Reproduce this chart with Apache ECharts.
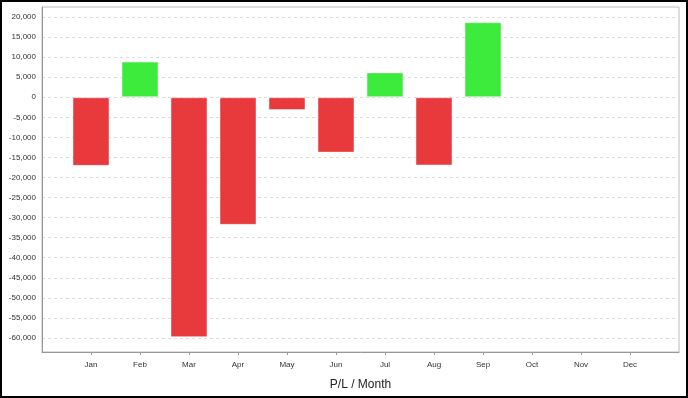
<!DOCTYPE html>
<html>
<head>
	<meta charset="utf-8">
	<title>P/L / Month</title>
	<style>
		* { padding: 0; margin: 0; }
		html, body { width: 688px; height: 398px; background: #fff; overflow: hidden; }
		#frame { width: 688px; height: 398px; box-sizing: border-box; border: 2px solid #000; }
		#main { width: 684px; height: 394px; }
	</style>
</head>
<body>
	<div id="frame"><div id="main"></div></div>
<script src="https://cdn.jsdelivr.net/npm/echarts@6/dist/echarts.min.js"></script>
<script type="text/javascript">
	// months shown on the x axis
	var months = ['Jan', 'Feb', 'Mar', 'Apr', 'May', 'Jun', 'Jul', 'Aug', 'Sep', 'Oct', 'Nov', 'Dec'];
	// profit / loss per month (empty months left as null)
	var pl = [-17100, 8900, -59800, -31800, -3200, -13800, 6200, -17000, 18700, null, null, null];
	// y axis tick values
	var yTicks = [-60000, -55000, -50000, -45000, -40000, -35000, -30000, -25000, -20000,
		-15000, -10000, -5000, 0, 5000, 10000, 15000, 20000];
	var yMin = -63500, yMax = 22500;

	// pad with an empty slot at each end so Jan and Dec sit one step in from the edges
	var cats = [''].concat(months, ['']);
	var vals = [null].concat(pl, [null]);

	var chart = echarts.init(document.getElementById('main'));
	var fontFamily = '"Liberation Sans", Arial, sans-serif';

	var option = {
		animation: false,
		grid: {
			left: 40, right: 7, top: 5, bottom: 44,
			show: true,
			borderColor: '#bbb',
			borderWidth: 1,
			containLabel: false,
			outerBoundsMode: 'none'
		},
		xAxis: {
			type: 'category',
			data: cats,
			boundaryGap: false,
			name: 'P/L / Month',
			nameLocation: 'middle',
			nameGap: 27,
			nameTextStyle: { fontSize: 12, color: '#222', fontFamily: fontFamily },
			axisLine: { onZero: false, lineStyle: { color: '#999' } },
			axisTick: {
				length: 3,
				lineStyle: { color: '#999' },
				interval: function (i, v) { return v !== ''; }
			},
			axisLabel: {
				fontSize: 8, color: '#333', fontFamily: fontFamily, margin: 9,
				interval: function (i, v) { return v !== ''; }
			},
			splitLine: { show: false }
		},
		yAxis: {
			type: 'value',
			min: yMin,
			max: yMax,
			axisLine: { show: true, lineStyle: { color: '#999' } },
			axisTick: { show: false, customValues: yTicks },
			axisLabel: {
				fontSize: 8, color: '#333', fontFamily: fontFamily, margin: 6,
				customValues: yTicks,
				formatter: function (v) { return echarts.format.addCommas(v); }
			},
			splitLine: { show: true, lineStyle: { color: '#ddd', type: [3, 3] } }
		},
		series: [{
			type: 'bar',
			data: vals,
			barWidth: 37,
			itemStyle: {
				color: function (p) { return p.value >= 0 ? '#3deb3d' : '#e8393d'; },
				borderColor: 'rgba(255,255,255,0.45)',
				borderWidth: 1
			}
		}]
	};
	chart.setOption(option);
</script>
</body>
</html>
